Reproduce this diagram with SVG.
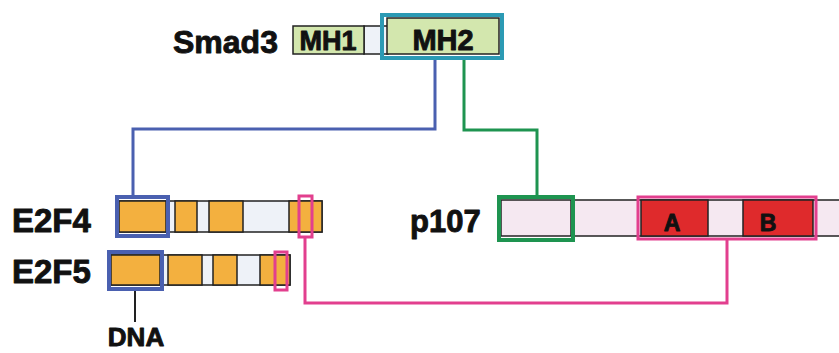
<svg xmlns="http://www.w3.org/2000/svg" width="839" height="353" viewBox="0 0 839 353">
<style>
text{font-family:"Liberation Sans",Arial,sans-serif;font-weight:bold;fill:#111;stroke:#111;stroke-width:0.9;stroke-linejoin:round}
.lbl{font-size:33px}
.seg{stroke:#222;stroke-width:1.5}
.mh{fill:#d3e7ae}
.or{fill:#f3b03f}
.wh{fill:#eef2f8}
.pk{fill:#f5e8f1}
.rd{fill:#df2a2c}
.blue{fill:none;stroke:#4a60b0;stroke-width:4}
.cyan{fill:none;stroke:#2b9ab4;stroke-width:4}
.green{fill:none;stroke:#1e9450;stroke-width:4}
.pink{fill:none;stroke:#e23f8e;stroke-width:3}
.conn{fill:none;stroke-width:3}
</style>
<rect width="839" height="353" fill="#ffffff"/>
<g id="connectors">
<path class="conn" d="M435 60 V129 H133 V197" stroke="#4a60b0"/>
<path class="conn" d="M464 60 V130 H537 V197" stroke="#1e9450"/>
<path class="conn" d="M305 237 V303 H727 V239" stroke="#e23f8e"/>
<path d="M135 289 V322" stroke="#222" stroke-width="2" fill="none"/>
</g>
<g id="smad3">
<text x="173" y="53" font-size="32">Smad3</text>
<rect class="seg wh" x="364" y="26" width="24" height="28" fill="#f6f8fb"/>
<rect class="seg mh" x="293" y="26" width="71" height="28"/>
<text x="328" y="50" font-size="27" text-anchor="middle">MH1</text>
<rect class="seg mh" x="387" y="18" width="112" height="36"/>
<text x="443" y="50" font-size="29" text-anchor="middle">MH2</text>
<rect class="cyan" x="382" y="15" width="120" height="43"/>
</g>
<g id="e2f4">
<text class="lbl" x="12" y="232">E2F4</text>
<rect class="seg wh" x="119" y="201" width="203" height="31"/>
<rect class="seg or" x="119" y="201" width="47" height="31"/>
<rect class="seg or" x="175" y="201" width="22" height="31"/>
<rect class="seg or" x="209" y="201" width="34" height="31"/>
<rect class="seg or" x="289" y="201" width="33" height="31"/>
<rect class="blue" x="117" y="197" width="51" height="39"/>
<rect class="pink" x="299" y="196" width="13" height="41"/>
</g>
<g id="e2f5">
<text class="lbl" x="12" y="283">E2F5</text>
<rect class="seg wh" x="111" y="255" width="179" height="30"/>
<rect class="seg or" x="111" y="255" width="49" height="30"/>
<rect class="seg or" x="168" y="255" width="34" height="30"/>
<rect class="seg or" x="213" y="255" width="24" height="30"/>
<rect class="seg or" x="260" y="255" width="30" height="30"/>
<rect class="blue" x="109" y="252" width="53" height="37"/>
<rect class="pink" x="275" y="252" width="12" height="38"/>
</g>
<g id="dna">
<text x="136" y="346" font-size="26" text-anchor="middle">DNA</text>
</g>
<g id="p107">
<text x="410" y="232" font-size="31">p107</text>
<rect class="seg pk" x="501" y="200" width="345" height="36"/>
<line class="seg" x1="571" y1="200" x2="571" y2="236"/>
<rect class="seg rd" x="641" y="200" width="67" height="36"/>
<rect class="seg rd" x="743" y="200" width="70" height="36"/>
<text x="672" y="231" font-size="23" text-anchor="middle">A</text>
<text x="768" y="231" font-size="23" text-anchor="middle">B</text>
<rect class="green" x="499" y="197" width="74" height="43"/>
<rect class="pink" x="638" y="197" width="178" height="42"/>
</g>
</svg>
